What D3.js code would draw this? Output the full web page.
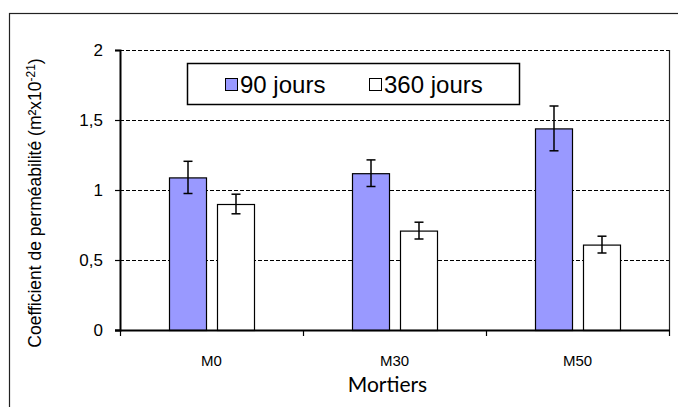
<!DOCTYPE html>
<html>
<head>
<meta charset="utf-8">
<script src="https://cdn.jsdelivr.net/npm/d3@7/dist/d3.min.js"></script>
<style>
  html, body { margin: 0; padding: 0; background: #fff; }
  svg { display: block; font-family: "Liberation Sans", Arial, sans-serif; }
</style>
</head>
<body>
<svg id="chart" width="678" height="407"></svg>
<script>
// Mortar mixes and curing ages
const categories = ["M0", "M30", "M50"];
const seriesNames = ["90 jours", "360 jours"];
// Permeability coefficient (m² x 10^-21)
const values90 = [1.09, 1.12, 1.44];
const values360 = [0.90, 0.71, 0.61];
// Error bar half-widths
const errors90 = [0.115, 0.095, 0.16];
const errors360 = [0.07, 0.06, 0.06];
const yTicks = [0, 0.5, 1, 1.5, 2];
const yTickLabels = ["0", "0,5", "1", "1,5", "2"];
const seriesColors = ["#9999ff", "#ffffff"];

const svg = d3.select("#chart");
const plot = { left: 120, right: 669, top: 50, bottom: 330 };

// Outer chart frame
svg.append("rect")
  .attr("x", 9.5).attr("y", 13.5)
  .attr("width", 700).attr("height", 420)
  .attr("fill", "none").attr("stroke", "#222").attr("stroke-width", 1.2);

const y = d3.scaleLinear().domain([0, 2]).range([plot.bottom, plot.top]);
const x0 = d3.scaleBand().domain(categories).range([plot.left, plot.right]);
const groupWidth = 85;
const x1 = d3.scaleBand().domain(seriesNames)
  .range([x0.bandwidth() / 2 - groupWidth / 2, x0.bandwidth() / 2 + groupWidth / 2])
  .paddingInner(0.229);

// Dashed horizontal gridlines
svg.append("g").selectAll("line")
  .data(yTicks.filter(d => d > 0))
  .join("line")
  .attr("x1", plot.left).attr("x2", plot.right)
  .attr("y1", d => y(d) + 0.5).attr("y2", d => y(d) + 0.5)
  .attr("stroke", "#000").attr("stroke-width", 1)
  .attr("stroke-dasharray", "4,2");

// Right edge of plot area
svg.append("line")
  .attr("x1", plot.right + 0.5).attr("x2", plot.right + 0.5)
  .attr("y1", plot.top).attr("y2", plot.bottom)
  .attr("stroke", "#222").attr("stroke-width", 1.2);

// Bars
const rows = categories.map((c, i) => ({
  cat: c,
  items: [
    { s: seriesNames[0], v: values90[i], e: errors90[i], color: seriesColors[0] },
    { s: seriesNames[1], v: values360[i], e: errors360[i], color: seriesColors[1] }
  ]
}));

const groups = svg.append("g").selectAll("g")
  .data(rows).join("g")
  .attr("transform", d => `translate(${x0(d.cat)},0)`);

groups.selectAll("rect")
  .data(d => d.items).join("rect")
  .attr("x", d => x1(d.s) + 0.5)
  .attr("y", d => y(d.v) + 0.5)
  .attr("width", x1.bandwidth())
  .attr("height", d => y(0) - y(d.v))
  .attr("fill", d => d.color)
  .attr("stroke", "#000").attr("stroke-width", 1.2);

// Error bars
const cap = 4.5;
const eb = groups.selectAll("g.err")
  .data(d => d.items).join("g").attr("class", "err");
eb.append("line")
  .attr("x1", d => x1(d.s) + x1.bandwidth() / 2 + 0.5)
  .attr("x2", d => x1(d.s) + x1.bandwidth() / 2 + 0.5)
  .attr("y1", d => y(d.v + d.e)).attr("y2", d => y(d.v - d.e))
  .attr("stroke", "#000").attr("stroke-width", 1.5);
eb.append("line")
  .attr("x1", d => x1(d.s) + x1.bandwidth() / 2 - cap + 0.5)
  .attr("x2", d => x1(d.s) + x1.bandwidth() / 2 + cap + 0.5)
  .attr("y1", d => y(d.v + d.e)).attr("y2", d => y(d.v + d.e))
  .attr("stroke", "#000").attr("stroke-width", 1.5);
eb.append("line")
  .attr("x1", d => x1(d.s) + x1.bandwidth() / 2 - cap + 0.5)
  .attr("x2", d => x1(d.s) + x1.bandwidth() / 2 + cap + 0.5)
  .attr("y1", d => y(d.v - d.e)).attr("y2", d => y(d.v - d.e))
  .attr("stroke", "#000").attr("stroke-width", 1.5);

// Y axis
const yAxis = d3.axisLeft(y)
  .tickValues(yTicks)
  .tickFormat((d, i) => yTickLabels[i])
  .tickSize(5).tickPadding(12);
const gy = svg.append("g")
  .attr("transform", `translate(${plot.left},0)`)
  .call(yAxis);
gy.select(".domain").attr("stroke", "#000").attr("stroke-width", 2);
gy.selectAll(".tick line").attr("stroke", "#000").attr("stroke-width", 1.2);
gy.selectAll(".tick text")
  .attr("font-size", 17).attr("fill", "#000")
  .attr("font-family", "'Liberation Sans', Arial, sans-serif");

// X axis with ticks at category boundaries
const xAxisLine = svg.append("g").attr("transform", `translate(0,${plot.bottom})`);
xAxisLine.append("line")
  .attr("x1", plot.left - 5).attr("x2", plot.right + 1)
  .attr("y1", 0.5).attr("y2", 0.5)
  .attr("stroke", "#000").attr("stroke-width", 2);
const boundaries = categories.map(c => x0(c)).concat([x0.range()[1]]);
xAxisLine.selectAll("line.tk")
  .data(boundaries).join("line").attr("class", "tk")
  .attr("x1", d => d + 0.5).attr("x2", d => d + 0.5)
  .attr("y1", 0).attr("y2", 6)
  .attr("stroke", "#000").attr("stroke-width", 1.2);
xAxisLine.selectAll("text")
  .data(categories).join("text")
  .attr("x", d => x0(d) + x0.bandwidth() / 2)
  .attr("y", 36)
  .attr("text-anchor", "middle")
  .attr("font-size", 15)
  .attr("fill", "#000")
  .text(d => d);

// Axis titles
svg.append("text")
  .attr("x", (plot.left + plot.right) / 2 - 7)
  .attr("y", 392)
  .attr("text-anchor", "middle")
  .attr("font-size", 21)
  .attr("font-family", "Lato, 'Liberation Sans', sans-serif")
  .attr("fill", "#000")
  .text("Mortiers");

const yTitle = svg.append("text")
  .attr("transform", `translate(41,${(plot.top + plot.bottom) / 2 + 13}) rotate(-90)`)
  .attr("text-anchor", "middle")
  .attr("font-size", 17.5)
  .attr("fill", "#000");
yTitle.append("tspan").text("Coefficient de perméabilité (m²x10");
yTitle.append("tspan").attr("dy", -6).attr("font-size", 12).text("-21");
yTitle.append("tspan").attr("dy", 6).text(")");

// Legend
const legend = svg.append("g");
legend.append("rect")
  .attr("x", 187.5).attr("y", 63.5)
  .attr("width", 332).attr("height", 41)
  .attr("fill", "#fff").attr("stroke", "#000").attr("stroke-width", 1.5);
const legendX = [225, 369];
const li = legend.selectAll("g.item")
  .data(seriesNames).join("g").attr("class", "item")
  .attr("transform", (d, i) => `translate(${legendX[i]},0)`);
li.append("rect")
  .attr("x", 0.5).attr("y", 78.5).attr("width", 12).attr("height", 12)
  .attr("fill", (d, i) => seriesColors[i])
  .attr("stroke", "#000").attr("stroke-width", 1);
li.append("text")
  .attr("x", 15).attr("y", 93)
  .attr("font-size", 24)
  .attr("fill", "#000")
  .text(d => d);
</script>
</body>
</html>
